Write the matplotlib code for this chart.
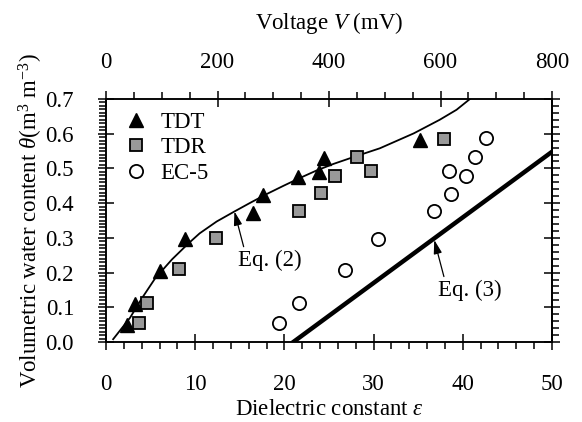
import matplotlib
matplotlib.use('Agg')
import matplotlib.pyplot as plt
from matplotlib.ticker import MultipleLocator, NullFormatter

plt.rcParams['font.family'] = ['Liberation Serif', 'DejaVu Serif']
plt.rcParams['mathtext.fontset'] = 'custom'
plt.rcParams['mathtext.rm'] = 'Liberation Serif'
plt.rcParams['mathtext.it'] = 'Liberation Serif:italic'
plt.rcParams['font.size'] = 16.5

# TDT and TDR: dielectric constant vs water content
tdt_eps = [2.3, 3.3, 6.0, 8.9, 16.5, 17.6, 21.5, 23.9, 24.4, 35.2]
tdt_theta = [0.049, 0.110, 0.205, 0.296, 0.373, 0.424, 0.475, 0.491, 0.530, 0.582]
tdr_eps = [3.7, 4.6, 8.2, 12.3, 21.6, 24.1, 25.7, 28.1, 29.7, 37.9]
tdr_theta = [0.054, 0.113, 0.209, 0.300, 0.378, 0.428, 0.479, 0.532, 0.494, 0.586]

# EC-5: output voltage (mV) vs water content
ec5_mv = [310, 347, 429, 488, 589, 618, 616, 645, 661, 681]
ec5_theta = [0.054, 0.111, 0.208, 0.298, 0.378, 0.427, 0.494, 0.479, 0.533, 0.587]

# Eq. (2) curve
eq2_eps = [0.8, 2.7, 4.0, 5.5, 7.4, 9.2, 10.5, 12.4, 14.4, 16.1, 18.0, 19.9,
           21.7, 23.6, 25.5, 28.0, 30.7, 34.5, 37.4, 39.3, 40.8]
eq2_theta = [0.008, 0.070, 0.125, 0.183, 0.238, 0.283, 0.313, 0.347, 0.376,
             0.400, 0.426, 0.450, 0.472, 0.494, 0.513, 0.535, 0.558, 0.601,
             0.640, 0.669, 0.700]

# Eq. (3) straight line (voltage axis)
eq3_mv = [336, 800]
eq3_theta = [0.0, 0.548]

fig = plt.figure(figsize=(5.82, 4.22), dpi=100)
ax = fig.add_axes([106/582, 80/422, 446/582, 243/422])
ax2 = ax.twiny()

ax.plot(eq2_eps, eq2_theta, color='black', lw=1.3)
h1, = ax.plot(tdt_eps, tdt_theta, '^', color='black', ms=10, mec='black',
              ls='none', label='TDT')
h2, = ax.plot(tdr_eps, tdr_theta, 's', mfc='#999999', mec='black', mew=1.3,
              ms=9, ls='none', label='TDR')

ax2.plot(eq3_mv, eq3_theta, color='black', lw=3.2)
h3, = ax2.plot(ec5_mv, ec5_theta, 'o', mfc='white', mec='black', mew=1.3,
               ms=9.5, ls='none', label='EC-5')

ax.set_xlim(0, 50)
ax.set_ylim(0, 0.7)
ax2.set_xlim(0, 800)

ax.xaxis.set_major_locator(MultipleLocator(10))
ax.xaxis.set_minor_locator(MultipleLocator(2))
ax.yaxis.set_major_locator(MultipleLocator(0.1))
ax.yaxis.set_minor_locator(MultipleLocator(0.01))
ax.yaxis.set_major_formatter(plt.FormatStrFormatter('%.1f'))
ax2.xaxis.set_major_locator(MultipleLocator(200))
ax2.xaxis.set_minor_locator(MultipleLocator(50))

sec = ax.secondary_yaxis('right')
sec.yaxis.set_major_locator(MultipleLocator(0.1))
sec.yaxis.set_minor_locator(MultipleLocator(0.02))
sec.yaxis.set_major_formatter(NullFormatter())

for a in (ax, ax2, sec):
    a.tick_params(which='major', direction='inout', length=12, width=1.1)
    a.tick_params(which='minor', direction='out', length=5, width=1.1)
ax.tick_params(which='major', pad=17)
ax2.tick_params(which='major', pad=13)
for a in (ax, ax2, sec):
    for s in a.spines.values():
        s.set_linewidth(1.1)

ax.set_xlabel(r'Dielectric constant $\varepsilon$', labelpad=3)
ax.set_ylabel(r'Volumetric water content $\theta$(m$^{3}$ m$^{-3}$)', labelpad=0)
ax2.set_xlabel(r'Voltage $V$ (mV)', labelpad=16)

arrow = dict(arrowstyle='-|>,head_length=0.5,head_width=0.15', color='black',
             lw=0.9, shrinkA=0, shrinkB=0, relpos=(0.1, 1.0))
ax.annotate('Eq. (2)', xy=(14.4, 0.376), xytext=(14.8, 0.236),
            va='center', ha='left', arrowprops=arrow)
ax.annotate('Eq. (3)', xy=(36.8, 0.294), xytext=(37.25, 0.15),
            va='center', ha='left', arrowprops=arrow)

ax2.legend([h1, h2, h3], ['TDT', 'TDR', 'EC-5'], loc='upper left',
           bbox_to_anchor=(0.02, 0.985), frameon=False, handlelength=1.0,
           handletextpad=0.6, labelspacing=0.2, borderaxespad=0.0)

fig.savefig('out.png', dpi=100)
